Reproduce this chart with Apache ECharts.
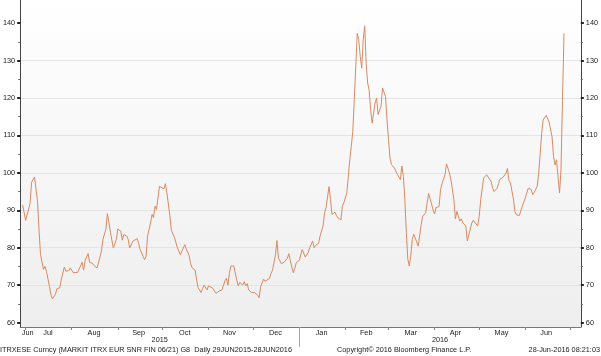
<!DOCTYPE html>
<html><head><meta charset="utf-8">
<script src="https://cdn.jsdelivr.net/npm/echarts@6/dist/echarts.min.js"></script>
<style>html,body{margin:0;padding:0;background:#fff}#c{width:601px;height:356px}</style>
</head><body><div id="c"></div>
<script>
// ---- data ----
const dates = [
'2015-06-29','2015-07-01','2015-07-04','2015-07-05','2015-07-07','2015-07-08','2015-07-09','2015-07-10','2015-07-11','2015-07-13',
'2015-07-14','2015-07-15','2015-07-17','2015-07-18','2015-07-19','2015-07-21','2015-07-22','2015-07-24','2015-07-25','2015-07-27',
'2015-07-28','2015-07-30','2015-07-31','2015-08-02','2015-08-03','2015-08-05','2015-08-06','2015-08-08','2015-08-09','2015-08-10',
'2015-08-12','2015-08-13','2015-08-15','2015-08-16','2015-08-18','2015-08-19','2015-08-21','2015-08-22','2015-08-24','2015-08-25',
'2015-08-26','2015-08-27','2015-08-28','2015-08-29','2015-08-31','2015-09-01','2015-09-03','2015-09-04','2015-09-05','2015-09-07',
'2015-09-08','2015-09-09','2015-09-11','2015-09-12','2015-09-14','2015-09-15','2015-09-16','2015-09-18','2015-09-19','2015-09-20',
'2015-09-21','2015-09-23','2015-09-24','2015-09-25','2015-09-26','2015-09-27','2015-09-29','2015-09-30','2015-10-02','2015-10-03',
'2015-10-04','2015-10-06','2015-10-07','2015-10-09','2015-10-10','2015-10-11','2015-10-13','2015-10-14','2015-10-16','2015-10-17',
'2015-10-19','2015-10-20','2015-10-21','2015-10-23','2015-10-24','2015-10-25','2015-10-27','2015-10-28','2015-10-29','2015-10-31',
'2015-11-01','2015-11-02','2015-11-04','2015-11-05','2015-11-06','2015-11-08','2015-11-09','2015-11-10','2015-11-12','2015-11-13',
'2015-11-14','2015-11-15','2015-11-16','2015-11-17','2015-11-18','2015-11-20','2015-11-21','2015-11-22','2015-11-24','2015-11-25',
'2015-11-26','2015-11-27','2015-11-28','2015-11-30','2015-12-01','2015-12-02','2015-12-04','2015-12-05','2015-12-06','2015-12-08',
'2015-12-09','2015-12-10','2015-12-12','2015-12-13','2015-12-14','2015-12-16','2015-12-17','2015-12-18','2015-12-20','2015-12-21',
'2015-12-22','2015-12-24','2015-12-25','2015-12-26','2015-12-28','2015-12-29','2015-12-30',
'2016-01-01','2016-01-03','2016-01-05','2016-01-07','2016-01-08','2016-01-10','2016-01-11','2016-01-12','2016-01-14','2016-01-15',
'2016-01-17','2016-01-18','2016-01-19','2016-01-20','2016-01-21','2016-01-22','2016-01-23','2016-01-25','2016-01-26','2016-01-27',
'2016-01-29','2016-01-30','2016-01-31','2016-02-01','2016-02-02','2016-02-03','2016-02-04','2016-02-05','2016-02-06','2016-02-07',
'2016-02-08','2016-02-09','2016-02-10','2016-02-11','2016-02-12','2016-02-13','2016-02-14','2016-02-15','2016-02-16','2016-02-17',
'2016-02-18','2016-02-19','2016-02-20','2016-02-21','2016-02-22','2016-02-23','2016-02-25','2016-02-26','2016-02-27','2016-02-28',
'2016-02-29','2016-03-01','2016-03-02','2016-03-03','2016-03-05','2016-03-06','2016-03-07','2016-03-09','2016-03-10','2016-03-11',
'2016-03-12','2016-03-13','2016-03-14','2016-03-15','2016-03-16','2016-03-17','2016-03-18','2016-03-19','2016-03-21','2016-03-22',
'2016-03-23','2016-03-24','2016-03-26','2016-03-27','2016-03-28','2016-03-29','2016-03-31','2016-04-01','2016-04-02','2016-04-04',
'2016-04-05','2016-04-06','2016-04-08','2016-04-09','2016-04-10','2016-04-11','2016-04-12','2016-04-14','2016-04-15','2016-04-16',
'2016-04-18','2016-04-19','2016-04-20','2016-04-22','2016-04-23','2016-04-24','2016-04-26','2016-04-27','2016-04-28','2016-04-30',
'2016-05-01','2016-05-02','2016-05-04','2016-05-05','2016-05-06','2016-05-07','2016-05-09','2016-05-10','2016-05-11','2016-05-13',
'2016-05-14','2016-05-15','2016-05-17','2016-05-18','2016-05-19','2016-05-20','2016-05-21','2016-05-22','2016-05-24','2016-05-25',
'2016-05-26','2016-05-28','2016-05-29','2016-05-30','2016-06-01','2016-06-02','2016-06-03','2016-06-05','2016-06-06','2016-06-07',
'2016-06-09','2016-06-10','2016-06-11','2016-06-12','2016-06-13','2016-06-15','2016-06-16','2016-06-17','2016-06-19','2016-06-20',
'2016-06-21','2016-06-22','2016-06-23','2016-06-24','2016-06-25','2016-06-26','2016-06-27'
];
const values = [
91.4,87.3,91.8,97.5,98.9,98.7,92.4,84.8,78.2,74.2,
75.0,73.7,69.7,67.5,66.3,67.5,69.0,69.3,71.5,74.8,
73.7,73.9,74.6,73.3,73.3,73.4,73.4,76.1,74.0,76.6,
78.4,76.1,75.8,75.2,74.6,75.9,79.1,82.2,85.0,89.1,
86.8,84.1,84.4,79.9,82.2,85.0,84.4,82.0,83.5,83.1,
82.2,79.9,81.7,82.2,82.4,81.1,79.5,77.7,76.8,77.7,
83.1,86.6,88.9,88.0,91.1,90.2,96.4,96.9,95.7,97.1,
94.7,88.5,84.6,82.8,82.5,80.1,78.1,79.0,80.8,79.7,
77.8,75.7,74.6,74.0,71.3,69.3,68.0,69.1,70.0,68.7,
69.8,69.3,69.1,68.4,67.8,68.4,68.4,68.7,71.1,71.8,
70.0,73.1,75.1,75.3,75.1,71.3,69.8,70.7,70.0,70.9,
69.8,70.4,68.7,68.0,68.4,68.0,67.3,66.6,69.5,71.6,
71.0,71.0,71.8,73.1,74.0,78.1,81.9,77.2,75.7,75.3,
76.2,77.2,78.4,76.5,73.3,74.5,76.0,
76.6,79.5,77.5,78.7,80.0,81.8,80.0,80.6,81.2,83.1,
85.8,89.3,90.7,90.4,96.3,92.9,88.9,89.5,88.6,88.0,
87.4,91.1,92.0,92.2,94.7,99.1,103.6,107.1,111.1,119.6,
128.4,137.3,135.6,131.1,128.0,135.6,139.3,129.3,124.0,122.0,
116.9,113.3,116.0,118.7,120.0,115.6,117.8,122.7,122.2,120.4,
114.2,108.9,104.0,102.2,101.3,100.4,99.6,98.2,101.8,99.1,
92.9,84.0,76.9,75.1,77.8,82.2,83.6,83.1,80.4,80.3,
86.2,88.4,89.3,92.0,94.5,94.5,90.1,89.0,90.7,91.0,
95.5,97.1,99.5,102.4,101.2,99.9,98.1,92.8,87.7,89.7,
87.1,87.7,86.6,85.8,81.8,81.5,86.6,87.3,87.1,85.8,
88.4,92.8,98.6,99.0,99.5,99.9,97.7,95.9,95.0,95.9,
97.1,98.3,98.8,99.0,99.9,101.2,98.0,97.3,93.0,89.7,
88.8,88.6,88.2,91.1,93.3,94.6,95.9,95.5,94.2,94.8,
96.4,99.9,105.2,110.5,114.1,115.4,115.0,113.6,109.6,104.3,
102.1,103.5,99.0,94.6,100.8,119.4,137.3
];
const yTickValues = [60,70,80,90,100,110,120,130,140];
const yMinorValues = [65,75,85,95,105,115,125,135];
const monthNames = ['Jun','Jul','Aug','Sep','Oct','Nov','Dec','Jan','Feb','Mar','Apr','May','Jun'];
const monthLabelDates = ['2015-06-30','2015-07-16','2015-08-16','2015-09-15','2015-10-16','2015-11-15','2015-12-16',
  '2016-01-16','2016-02-15','2016-03-16','2016-04-15','2016-05-16','2016-06-15'];
const monthStarts = ['2015-07-01','2015-08-01','2015-09-01','2015-10-01','2015-11-01','2015-12-01','2016-01-01',
  '2016-02-01','2016-03-01','2016-04-01','2016-05-01','2016-06-01','2016-07-01'];
const yearNames = ['2015','2016'];
const yearBreak = '2016-01-01';
const axisStart = '2015-06-27 08:00';
const axisEnd = '2016-07-08 08:00';
const footerLeft = 'ITRXESE Curncy (MARKIT ITRX EUR SNR FIN 06/21) G8  Daily 29JUN2015-28JUN2016';
const footerMid = 'Copyright\u00A9 2016 Bloomberg Finance L.P.';
const footerRight = '28-Jun-2016 08:21:03';

// ---- chart ----
const ts = s => echarts.time.parse(s).getTime();
const FONT = 'Liberation Sans, Arial, sans-serif';
const FS = 7.3;
const TXT = '#222';
const xMin = ts(axisStart), xMax = ts(axisEnd), brk = ts(yearBreak);
const monthLabelTs = monthLabelDates.map(ts);
const yearLabelTs = [(xMin + brk) / 2, (brk + xMax) / 2];
const seriesData = dates.map((d, i) => [ts(d), values[i]]);
const yMin = 58.8, yMax = 146.2;

function nearestIdx(arr, v) {
  let bi = 0, bd = Infinity;
  arr.forEach((a, i) => { const d = Math.abs(a - v); if (d < bd) { bd = d; bi = i; } });
  return bi;
}

function yAxisCfg(pos, major) {
  return {
    type: 'value', position: pos, min: yMin, max: yMax, splitNumber: 9,
    axisLine: { show: major, lineStyle: { color: '#444', width: 1 } },
    axisTick: major
      ? { show: true, customValues: yTickValues, length: 3, lineStyle: { color: '#222', width: 2 } }
      : { show: true, customValues: yMinorValues, length: 2, lineStyle: { color: '#666', width: 1 } },
    axisLabel: major
      ? { show: true, customValues: yTickValues, margin: 5, fontSize: FS, fontFamily: FONT, color: TXT }
      : { show: false },
    splitLine: (major && pos === 'left')
      ? { show: true, showMinLine: false, showMaxLine: false, lineStyle: { color: '#e4e4e4', width: 1 } }
      : { show: false }
  };
}

const chart = echarts.init(document.getElementById('c'), null, { renderer: 'canvas' });
chart.setOption({
  animation: false,
  backgroundColor: '#ffffff',
  textStyle: { fontFamily: FONT },
  title: [
    { text: footerLeft, left: 0, top: 346, padding: 0, textStyle: { fontSize: FS, fontWeight: 'normal', color: TXT, fontFamily: FONT } },
    { text: footerMid, left: 337, top: 346, padding: 0, textStyle: { fontSize: FS, fontWeight: 'normal', color: TXT, fontFamily: FONT } },
    { text: footerRight, right: 1, top: 346, padding: 0, textStyle: { fontSize: FS, fontWeight: 'normal', color: TXT, fontFamily: FONT } }
  ],
  grid: {
    left: 17, right: 18, top: 0, bottom: 29, show: true, borderWidth: 0,
    backgroundColor: new echarts.graphic.LinearGradient(0, 0, 0, 1, [
      { offset: 0, color: '#ffffff' }, { offset: 1, color: '#eeeeee' }
    ])
  },
  xAxis: [
    {
      type: 'value', min: xMin, max: xMax, position: 'bottom', scale: true,
      axisLine: { show: true, lineStyle: { color: '#777', width: 1 } },
      axisTick: { show: true, customValues: monthStarts.map(ts), length: 3, lineStyle: { color: '#888' } },
      axisLabel: {
        show: true, customValues: monthLabelTs, margin: 2, fontSize: FS, fontFamily: FONT, color: TXT,
        formatter: function (v) {
          const i = nearestIdx(monthLabelTs, v);
          return i === 0 ? '{s|' + monthNames[i] + '}' : monthNames[i];
        },
        rich: { s: { fontSize: FS, fontFamily: FONT, color: TXT, padding: [0, 0, 0, 7] } }
      },
      splitLine: { show: false }
    },
    {
      type: 'value', min: xMin, max: xMax, position: 'bottom', offset: 1, scale: true,
      axisLine: { show: false },
      axisTick: { show: true, customValues: [brk], length: 19, lineStyle: { color: '#aaa' } },
      axisLabel: {
        show: true, customValues: yearLabelTs, margin: 8, fontSize: FS, fontFamily: FONT, color: TXT,
        formatter: function (v) { return yearNames[nearestIdx(yearLabelTs, v)]; }
      },
      splitLine: { show: false }
    }
  ],
  yAxis: [yAxisCfg('left', true), yAxisCfg('right', true), yAxisCfg('left', false), yAxisCfg('right', false)],
  series: [{
    type: 'line', xAxisIndex: 0, yAxisIndex: 0, data: seriesData,
    showSymbol: false, symbol: 'none', smooth: false,
    lineStyle: { color: '#d98a62', width: 1 }
  }]
});
</script>
</body></html>
